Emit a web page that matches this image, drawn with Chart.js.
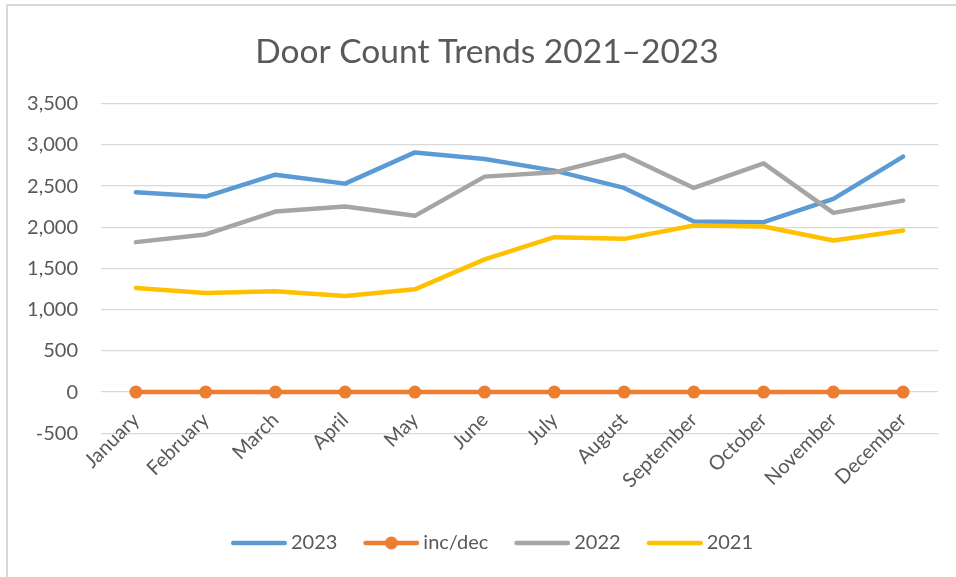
<!DOCTYPE html>
<html>
<head>
<meta charset="utf-8">
<script src="https://cdn.jsdelivr.net/npm/chart.js@4.4.1/dist/chart.umd.min.js"></script>
<style>
  html, body { margin: 0; padding: 0; background: #ffffff; overflow: hidden; }
  body { width: 956px; height: 577px; position: relative; }
  #frame { position: absolute; left: 6px; top: 4px; width: 960px; height: 580px;
           border-top: 2px solid #d9d9d9; border-left: 2px solid #d9d9d9; box-sizing: border-box; }
  #wrap { position: absolute; left: 0; top: 0; width: 976px; height: 577px; }
</style>
</head>
<body>
<div id="frame"></div>
<div id="wrap"><canvas id="c" width="976" height="577"></canvas></div>
<script>
const months = ["January","February","March","April","May","June","July","August","September","October","November","December"];
const series2023 = [2425, 2373, 2639, 2530, 2909, 2829, 2688, 2478, 2070, 2062, 2345, 2857];
const seriesIncDec = [0, 0, 0, 0, 0, 0, 0, 0, 0, 0, 0, 0];
const series2022 = [1820, 1913, 2191, 2252, 2139, 2615, 2667, 2877, 2478, 2776, 2175, 2324];
const series2021 = [1263, 1202, 1223, 1166, 1247, 1610, 1880, 1860, 2021, 2009, 1840, 1961];
const yMin = -500, yMax = 3500, yStep = 500;

const TEXT = '#595959';
const FONT = 'Lato, "Open Sans", sans-serif';
const BOX_W = 60;

function legendImage(color, marker) {
  const c = document.createElement('canvas');
  c.width = BOX_W + 12; c.height = 16;
  const g = c.getContext('2d');
  const x1 = c.width - 56, x2 = c.width;
  g.strokeStyle = color; g.lineWidth = 4.5; g.lineCap = 'round';
  g.beginPath(); g.moveTo(x1 + 2.25, 8); g.lineTo(x2 - 2.25, 8); g.stroke();
  if (marker) {
    g.fillStyle = color; g.beginPath(); g.arc((x1 + x2) / 2, 8, 6.5, 0, Math.PI * 2); g.fill();
  }
  return c;
}

const datasets = [
  { label: '2023', data: series2023, borderColor: '#5B9BD5', order: 4, pointRadius: 0, marker: false },
  { label: 'inc/dec', data: seriesIncDec, borderColor: '#ED7D31', order: 3, pointRadius: 6.5, marker: true,
    pointBackgroundColor: '#ED7D31', pointBorderWidth: 0 },
  { label: '2022', data: series2022, borderColor: '#A5A5A5', order: 2, pointRadius: 0, marker: false },
  { label: '2021', data: series2021, borderColor: '#FFC000', order: 1, pointRadius: 0, marker: false }
].map(d => Object.assign({ borderWidth: 4.5, tension: 0, fill: false, backgroundColor: d.borderColor,
  borderCapStyle: 'round', borderJoinStyle: 'round', pointHoverRadius: 0 }, d));

new Chart(document.getElementById('c'), {
  type: 'line',
  data: { labels: months, datasets },
  options: {
    responsive: false,
    animation: false,
    devicePixelRatio: 1,
    events: [],
    layout: { padding: { left: 8, right: 10, top: 0, bottom: 14 } },
    plugins: {
      tooltip: { enabled: false },
      title: {
        display: true,
        text: 'Door Count Trends 2021–2023',
        color: TEXT,
        font: { family: FONT, size: 33.5, weight: 'normal', lineHeight: 1.2 },
        padding: { top: 32, bottom: 31.5 }
      },
      legend: {
        position: 'bottom',
        labels: {
          color: TEXT,
          font: { family: FONT, size: 20 },
          usePointStyle: true,
          pointStyleWidth: BOX_W,
          boxHeight: 20,
          padding: 16,
          generateLabels: (chart) => chart.data.datasets.map((d, i) => ({
            text: d.label,
            pointStyle: legendImage(d.borderColor, d.marker),
            fillStyle: d.borderColor,
            strokeStyle: d.borderColor,
            lineWidth: 0,
            hidden: false,
            datasetIndex: i,
            fontColor: TEXT
          }))
        }
      }
    },
    scales: {
      x: {
        type: 'category',
        position: { y: 0 },
        offset: true,
        grid: { display: false },
        border: { display: false },
        ticks: { color: TEXT, font: { family: FONT, size: 20 }, maxRotation: 45, minRotation: 45, padding: 8, autoSkip: false }
      },
      xSpace: {
        type: 'category',
        position: 'bottom',
        offset: true,
        grid: { display: false },
        border: { display: false },
        ticks: { display: false },
        afterFit: (s) => { s.height = 83.7; }
      },
      y: {
        position: 'left',
        min: yMin, max: yMax,
        grid: { color: '#d9d9d9', lineWidth: 1.3, drawTicks: false },
        border: { display: false },
        ticks: { stepSize: yStep, color: TEXT, font: { family: FONT, size: 20 }, padding: 23 },
        afterFit: (s) => { s.width = 93; }
      },
      ySpace: {
        type: 'linear',
        position: 'right',
        grid: { display: false },
        border: { display: false },
        ticks: { display: false },
        afterFit: (s) => { s.width = 28; }
      }
    }
  }
});
</script>
</body>
</html>
